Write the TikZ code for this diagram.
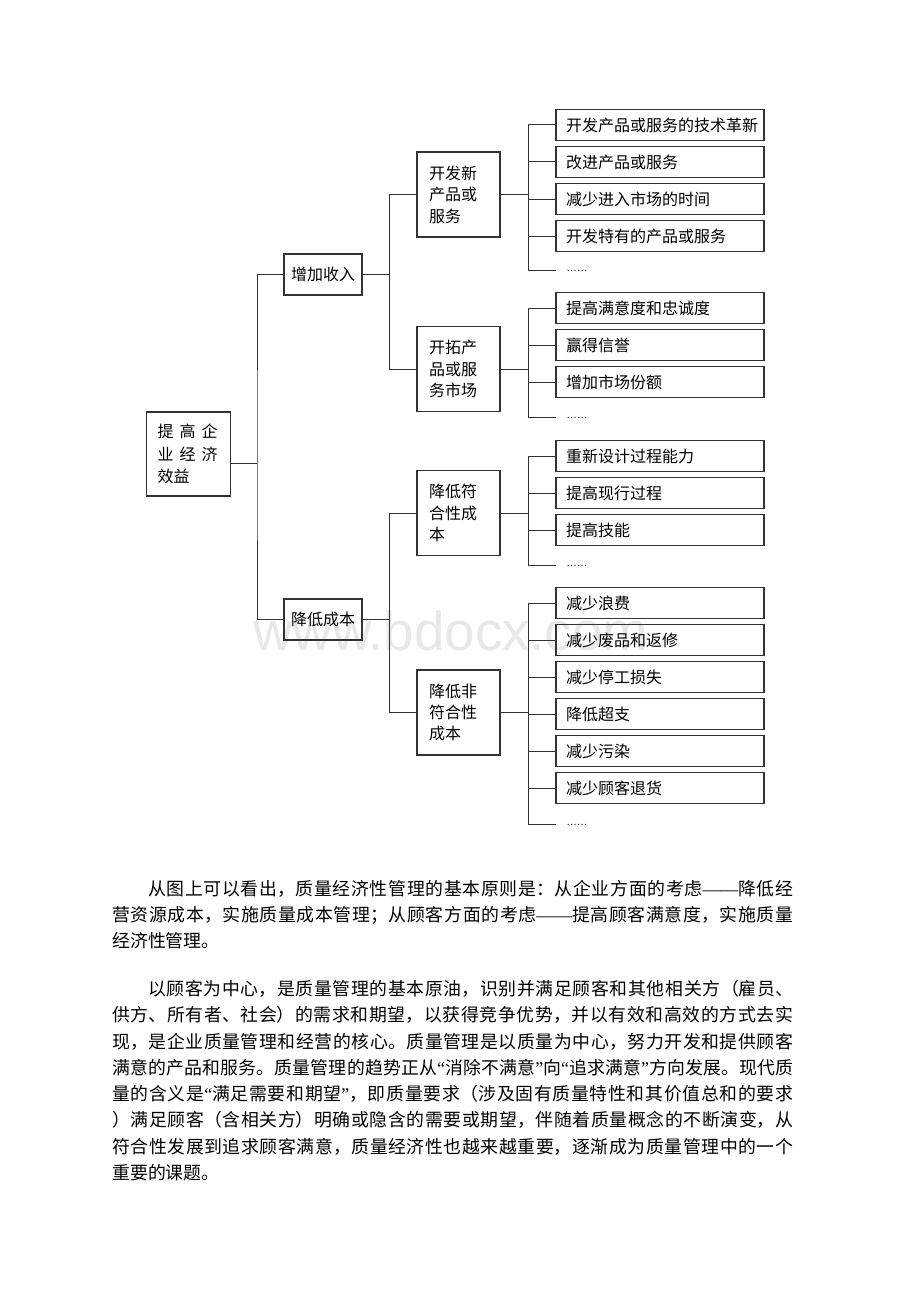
\documentclass[tikz,border=0pt]{standalone}
\usepackage{fontspec}
\newfontfamily\cjk{Noto Sans CJK SC}
\newfontfamily\qtfont{Liberation Serif}
\newfontfamily\wmfont{Liberation Sans}
\usetikzlibrary{positioning}
\newcommand\lqt{{\qtfont “}}
\newcommand\rqt{{\qtfont ”}}
\newcommand\dashes{{\qtfont ——}}
\tikzset{box/.style={draw=black!80,line width=1pt,font=\cjk\fontsize{12}{16.1}\selectfont}}
\tikzset{goal/.style={box,text width=46.5pt,inner xsep=8.25pt,inner ysep=0pt,minimum height=63pt,align=left,font=\cjk\fontsize{12}{16.9}\selectfont}}
\tikzset{sub/.style={box,minimum width=58.5pt,minimum height=30.75pt,inner sep=0pt,align=center}}
\tikzset{mid/.style={box,text width=44.25pt,inner xsep=9pt,inner ysep=0pt,minimum height=63.75pt,align=left}}
\tikzset{leaf/.style={box,text width=141pt,inner xsep=7.5pt,inner ysep=0pt,minimum height=23.25pt,align=left}}
\tikzset{more/.style={inner xsep=7.5pt,inner ysep=0pt,text height=1.5pt,text depth=0pt,font=\wmfont\fontsize{8}{8}\selectfont}}
\tikzset{link/.style={draw=black!80,line width=0.75pt}}
\tikzset{para/.style={inner sep=0pt,text width=510.75pt,align=justify,font=\cjk\fontsize{13.4}{19.7}\selectfont,
  execute at begin node={\XeTeXlinebreaklocale "zh"\XeTeXlinebreakskip=0pt plus 1pt}}}

\begin{document}
\begin{tikzpicture}[x=0.75pt,y=-0.75pt,node distance=27.75pt]
    \path[fill=white,use as bounding box] (0,0) rectangle (920,1302);
    \node (wm) [anchor=base west,inner sep=0pt,text=black!9,font=\wmfont\fontsize{41}{41}\selectfont] at (253,650) {www.bdocx.com};
    % tree
    \node (root) [goal] at (188.5,454) {提\hspace{4.5pt}高\hspace{4.5pt}企\\业\hspace{4.5pt}经\hspace{4.5pt}济\\效益};
    \node (inc) [sub] at (323,274.5) {增加收入};
    \node (cut) [sub] at (323,619.5) {降低成本};
    \node (dev) [mid] at (458.5,194.5) {开发新\\产品或\\服务};
    \node (mkt) [mid] at (458.5,369) {开拓产\\品或服\\务市场};
    \node (conf) [mid] at (458.5,513) {降低符\\合性成\\本};
    \node (ncon) [mid] at (458.5,712.5) {降低非\\符合性\\成本};
    \node (dev1) [leaf] at (660,125) {开发产品或服务的技术革新};
    \node (dev2) [leaf,below of=dev1] {改进产品或服务};
    \node (dev3) [leaf,below of=dev2] {减少进入市场的时间};
    \node (dev4) [leaf,below of=dev3] {开发特有的产品或服务};
    \node (devx) [more,anchor=west] at (556,270) {……};
    \node (mkt1) [leaf] at (660,308) {提高满意度和忠诚度};
    \node (mkt2) [leaf,below of=mkt1] {赢得信誉};
    \node (mkt3) [leaf,below of=mkt2] {增加市场份额};
    \node (mktx) [more,anchor=west] at (556,417) {……};
    \node (conf1) [leaf] at (660,456) {重新设计过程能力};
    \node (conf2) [leaf,below of=conf1] {提高现行过程};
    \node (conf3) [leaf,below of=conf2] {提高技能};
    \node (confx) [more,anchor=west] at (556,565) {……};
    \node (ncon1) [leaf] at (660,603) {减少浪费};
    \node (ncon2) [leaf,below of=ncon1] {减少废品和返修};
    \node (ncon3) [leaf,below of=ncon2] {减少停工损失};
    \node (ncon4) [leaf,below of=ncon3] {降低超支};
    \node (ncon5) [leaf,below of=ncon4] {减少污染};
    \node (ncon6) [leaf,below of=ncon5] {减少顾客退货};
    \node (nconx) [more,anchor=west] at (556,824) {……};
    \coordinate (j1) at (257,463);
    \draw[link] (root.east |- j1) -- (j1);
    \draw[link] (inc.west) -| (j1) |- (cut.west);
    \draw[link] (inc.east) -- ++(27,0) coordinate (j2);
    \draw[link] (dev.west) -| (j2) |- (mkt.west);
    \draw[link] (cut.east) -- ++(27,0) coordinate (j3);
    \draw[link] (conf.west) -| (j3) |- (ncon.west);
    \draw[link] (dev.east) -- ++(28,0) coordinate (j4);
    \foreach \n in {dev1,dev2,dev3,dev4,devx} \draw[link] (j4) |- (\n.west);
    \draw[link] (mkt.east) -- ++(28,0) coordinate (j5);
    \foreach \n in {mkt1,mkt2,mkt3,mktx} \draw[link] (j5) |- (\n.west);
    \draw[link] (conf.east) -- ++(28,0) coordinate (j6);
    \foreach \n in {conf1,conf2,conf3,confx} \draw[link] (j6) |- (\n.west);
    \draw[link] (ncon.east) -- ++(28,0) coordinate (j7);
    \foreach \n in {ncon1,ncon2,ncon3,ncon4,ncon5,ncon6,nconx} \draw[link] (j7) |- (\n.west);
    % text below
    \node (p1) [para,anchor=north west] at (112,880) {\hspace*{2em}从图上可以看出，质量经济性管理的基本原则是：从企业方面的考虑\dashes 降低经\linebreak
营资源成本，实施质量成本管理；从顾客方面的考虑\dashes 提高顾客满意度，实施质量\linebreak
经济性管理。};
    \node (p2) [para,anchor=north west] at (112,980) {\hspace*{2em}以顾客为中心，是质量管理的基本原油，识别并满足顾客和其他相关方（雇员、\linebreak
供方、所有者、社会）的需求和期望，以获得竞争优势，并以有效和高效的方式去实\linebreak
现，是企业质量管理和经营的核心。质量管理是以质量为中心，努力开发和提供顾客\linebreak
满意的产品和服务。质量管理的趋势正从\lqt 消除不满意\rqt 向\lqt 追求满意\rqt 方向发展。现代质\linebreak
量的含义是\lqt 满足需要和期望\rqt ，即质量要求（涉及固有质量特性和其价值总和的要求\linebreak
）满足顾客（含相关方）明确或隐含的需要或期望，伴随着质量概念的不断演变，从\linebreak
符合性发展到追求顾客满意，质量经济性也越来越重要，逐渐成为质量管理中的一个\linebreak
重要的课题。};
\end{tikzpicture}
\end{document}
